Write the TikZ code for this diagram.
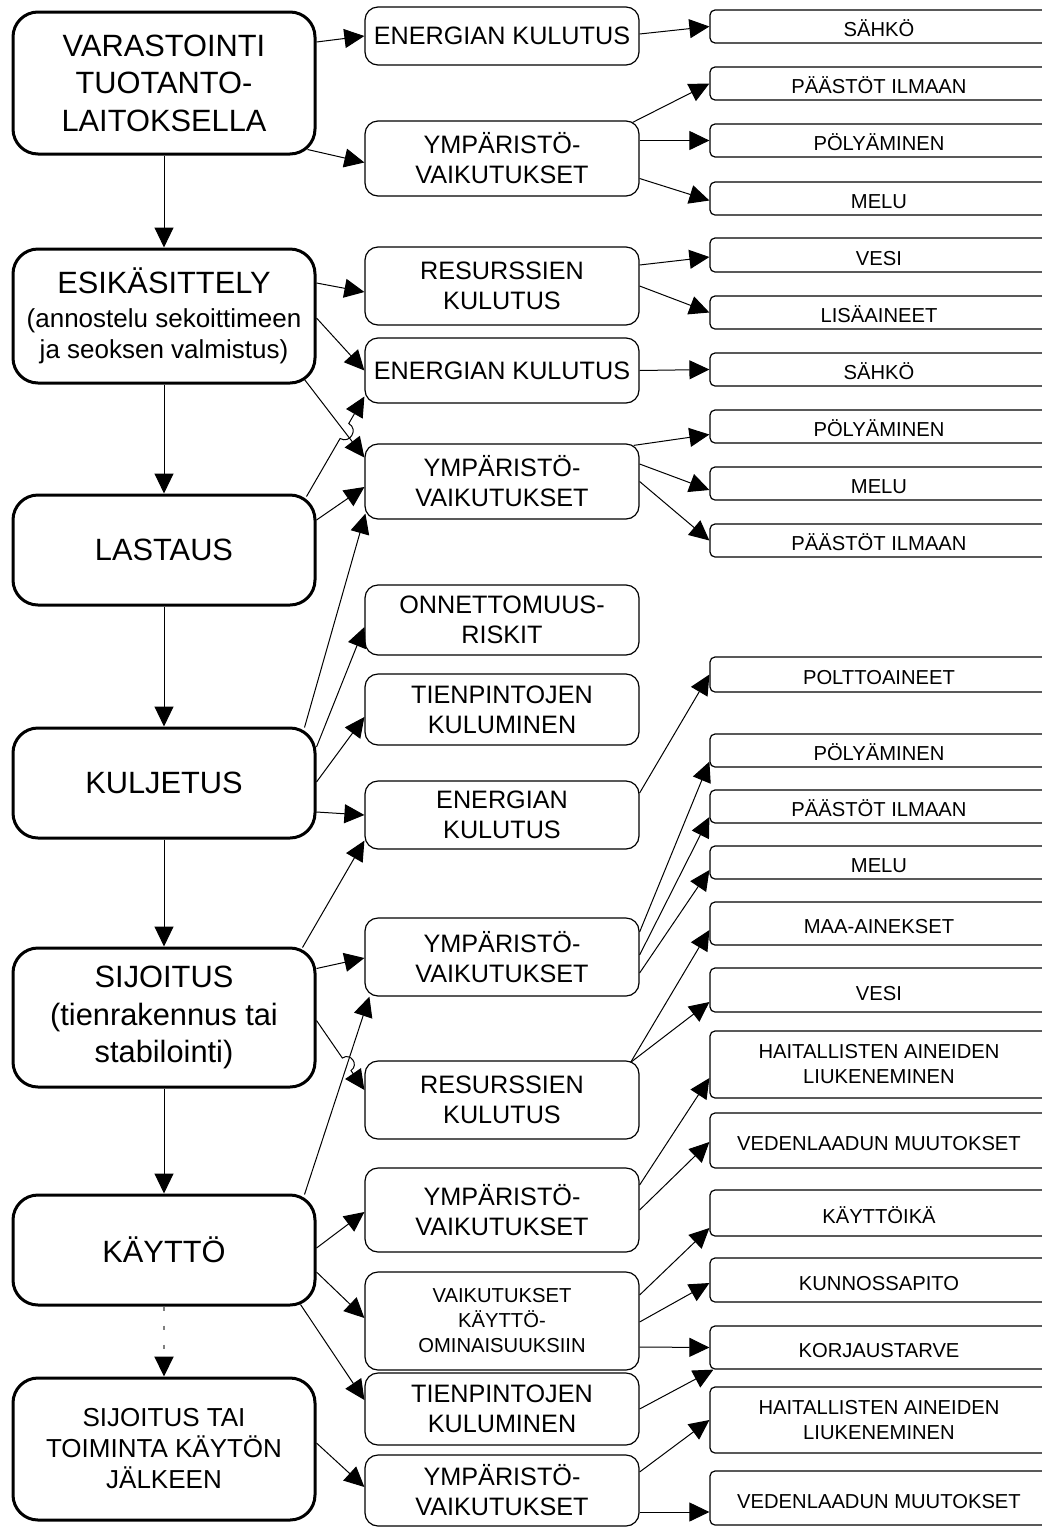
\documentclass[tikz,border=0pt]{standalone}
\usepackage{fontspec}
\setmainfont{Liberation Sans}
\usetikzlibrary{arrows.meta,calc}
\newcommand{\stagefont}{\fontsize{15.4pt}{18.7pt}\selectfont}
\newcommand{\subfont}{\fontsize{13pt}{15.5pt}\selectfont}
\newcommand{\effectfont}{\fontsize{12.6pt}{15pt}\selectfont}
\newcommand{\itemfont}{\fontsize{10.1pt}{12.5pt}\selectfont}

\begin{document}
\begin{tikzpicture}[
    x=0.5pt, y=-0.5pt,
    stage/.style={rectangle,rounded corners=12.5pt,draw,line width=1.5pt,
                  minimum width=151pt,inner sep=0pt,align=center,font=\stagefont},
    effect/.style={rectangle,rounded corners=6.5pt,draw,line width=0.6pt,
                   minimum width=137pt,inner sep=0pt,align=center,font=\effectfont},
    item/.style={rectangle,rounded corners=2.5pt,draw,line width=0.6pt,
                 minimum width=169pt,inner sep=0pt,align=center,font=\itemfont},
    oneline/.style={text height=10pt,text depth=0pt},
    arr/.style={-{Triangle[length=10pt,width=9.5pt]},line width=0.5pt},
    hop/.style={bend #1=90,looseness=1.7}
  ]
    \useasboundingbox (0,0) rectangle (1042,1527);

    % life-cycle stages
    \node[stage,minimum height=71pt] (varastointi) at (164,83) {VARASTOINTI\\TUOTANTO-\\LAITOKSELLA};
    \node[stage,font=\subfont,minimum height=67pt] (esikasittely) at (164,316)
      {{\stagefont ESIKÄSITTELY}\\[1.5pt](annostelu sekoittimeen\\ja seoksen valmistus)};
    \node[stage,minimum height=55pt] (lastaus) at (164,550) {LASTAUS};
    \node[stage,minimum height=55pt] (kuljetus) at (164,783) {KULJETUS};
    \node[stage,minimum height=69.5pt] (sijoitus) at (164,1017.5) {SIJOITUS\\(tienrakennus tai\\stabilointi)};
    \node[stage,minimum height=55pt] (kaytto) at (164,1250) {KÄYTTÖ};
    \node[stage,font=\subfont,minimum height=71pt] (jalkeen) at (164,1449) {SIJOITUS TAI\\TOIMINTA KÄYTÖN\\JÄLKEEN};

    % effects
    \node[effect,minimum height=29pt] (var-energia) at (502,36) {ENERGIAN KULUTUS};
    \node[effect,minimum height=37.5pt] (var-ymparisto) at (502,158.5) {YMPÄRISTÖ-\\VAIKUTUKSET};
    \node[effect,minimum height=39pt] (esi-resurssit) at (502,286) {RESURSSIEN\\KULUTUS};
    \node[effect,minimum height=32.5pt] (esi-energia) at (502,370.5) {ENERGIAN KULUTUS};
    \node[effect,minimum height=37.5pt] (esi-ymparisto) at (502,481.5) {YMPÄRISTÖ-\\VAIKUTUKSET};
    \node[effect,minimum height=35pt] (kul-riskit) at (502,620) {ONNETTOMUUS-\\RISKIT};
    \node[effect,minimum height=35.5pt] (kul-tienpinta) at (502,709.5) {TIENPINTOJEN\\KULUMINEN};
    \node[effect,minimum height=34pt] (kul-energia) at (502,815) {ENERGIAN\\KULUTUS};
    \node[effect,minimum height=39pt] (sij-ymparisto) at (502,957) {YMPÄRISTÖ-\\VAIKUTUKSET};
    \node[effect,minimum height=39pt] (sij-resurssit) at (502,1100) {RESURSSIEN\\KULUTUS};
    \node[effect,minimum height=42pt] (kay-ymparisto) at (502,1210) {YMPÄRISTÖ-\\VAIKUTUKSET};
    \node[effect,font=\itemfont,minimum height=49pt] (kay-ominaisuus) at (502,1321) {VAIKUTUKSET\\KÄYTTÖ-\\OMINAISUUKSIIN};
    \node[effect,minimum height=36pt] (kay-tienpinta) at (502,1409) {TIENPINTOJEN\\KULUMINEN};
    \node[effect,minimum height=35.5pt] (jal-ymparisto) at (502,1490.5) {YMPÄRISTÖ-\\VAIKUTUKSET};

    % detailed items
    \node[item,oneline,minimum height=16.5pt] (var-sahko) at (879,26.5) {SÄHKÖ};
    \node[item,oneline,minimum height=16.5pt] (var-paastot) at (879,83.5) {PÄÄSTÖT ILMAAN};
    \node[item,oneline,minimum height=16.5pt] (var-poly) at (879,140.5) {PÖLYÄMINEN};
    \node[item,oneline,minimum height=16.5pt] (var-melu) at (879,198.5) {MELU};
    \node[item,oneline,minimum height=17pt] (esi-vesi) at (879,255) {VESI};
    \node[item,oneline,minimum height=16.5pt] (esi-lisa) at (879,312.5) {LISÄAINEET};
    \node[item,oneline,minimum height=16.5pt] (esi-sahko) at (879,369.5) {SÄHKÖ};
    \node[item,oneline,minimum height=16.5pt] (esi-poly) at (879,426.5) {PÖLYÄMINEN};
    \node[item,oneline,minimum height=16.5pt] (esi-melu) at (879,483.5) {MELU};
    \node[item,oneline,minimum height=16.5pt] (esi-paastot) at (879,540.5) {PÄÄSTÖT ILMAAN};
    \node[item,oneline,minimum height=17.5pt] (kul-poltto) at (879,674.5) {POLTTOAINEET};
    \node[item,oneline,minimum height=16.5pt] (sij-poly) at (879,750.5) {PÖLYÄMINEN};
    \node[item,oneline,minimum height=16.5pt] (sij-paastot) at (879,806.5) {PÄÄSTÖT ILMAAN};
    \node[item,oneline,minimum height=16.5pt] (sij-melu) at (879,862.5) {MELU};
    \node[item,oneline,minimum height=21.5pt] (sij-maa) at (879,923.5) {MAA-AINEKSET};
    \node[item,oneline,minimum height=22pt] (sij-vesi) at (879,990) {VESI};
    \node[item,minimum height=33.5pt] (kay-haitta) at (879,1064.5) {HAITALLISTEN AINEIDEN\\LIUKENEMINEN};
    \node[item,oneline,minimum height=27.5pt] (kay-vesilaatu) at (879,1140.5) {VEDENLAADUN MUUTOKSET};
    \node[item,oneline,minimum height=23pt] (kay-ika) at (879,1213) {KÄYTTÖIKÄ};
    \node[item,oneline,minimum height=22pt] (kay-kunnossa) at (879,1280) {KUNNOSSAPITO};
    \node[item,oneline,minimum height=21.5pt] (kay-korjaus) at (879,1347.5) {KORJAUSTARVE};
    \node[item,minimum height=33pt] (jal-haitta) at (879,1420) {HAITALLISTEN AINEIDEN\\LIUKENEMINEN};
    \node[item,oneline,minimum height=27pt] (jal-vesilaatu) at (879,1498) {VEDENLAADUN MUUTOKSET};

    % flow down the stages
    \draw[arr] (varastointi) -- (esikasittely);
    \draw[arr] (esikasittely) -- (lastaus);
    \draw[arr] (lastaus) -- (kuljetus);
    \draw[arr] (kuljetus) -- (sijoitus);
    \draw[arr] (sijoitus) -- (kaytto);
    \draw[arr,gray,line width=1pt,dash pattern=on 2pt off 7.5pt,
          -{Triangle[length=10pt,width=9.5pt,color=black]}] (kaytto) -- (jalkeen);

    % VARASTOINTI
    \draw[arr] ([yshift=20.5pt]varastointi.east) -- (var-energia.west);
    \draw[arr] ([xshift=-4.5pt,yshift=3pt]varastointi.south east) -- ([yshift=-2pt]var-ymparisto.west);
    \draw[arr] ([yshift=1pt]var-energia.east) -- (var-sahko.west);
    \draw[arr] ([xshift=-3.5pt,yshift=-1pt]var-ymparisto.north east) -- (var-paastot.west);
    \draw[arr] ([yshift=9pt]var-ymparisto.east) -- (var-poly.west);
    \draw[arr] ([yshift=-10pt]var-ymparisto.east) -- ([yshift=-1pt]var-melu.west);

    % ESIKÄSITTELY
    \draw[arr] ([yshift=16.5pt]esikasittely.east) -- ([yshift=-3pt]esi-resurssit.west);
    \draw[arr] ([yshift=-1pt]esikasittely.east) -- (esi-energia.west);
    \draw[arr] ([xshift=-6pt,yshift=2.5pt]esikasittely.south east) -- ([yshift=12pt]esi-ymparisto.west);
    \draw[arr] ([yshift=10.5pt]esi-resurssit.east) -- ([yshift=-1pt]esi-vesi.west);
    \draw[arr] (esi-resurssit.east) -- (esi-lisa.west);
    \draw[arr] (esi-energia.east) -- (esi-sahko.west);
    \draw[arr] ([xshift=-3pt,yshift=-1pt]esi-ymparisto.north east) -- ([yshift=-4pt]esi-poly.west);
    \draw[arr] ([yshift=8.75pt]esi-ymparisto.east) -- ([yshift=-3.25pt]esi-melu.west);
    \draw[arr] (esi-ymparisto.east) -- (esi-paastot.west);

    % LASTAUS
    \coordinate (lastaus-ne) at ([xshift=-5pt,yshift=-1.5pt]lastaus.north east);
    \coordinate (esi-energia-sw) at ([yshift=-13pt]esi-energia.west);
    \draw[arr] (lastaus-ne) -- ($(lastaus-ne)!0.58!(esi-energia-sw)$)
      to[hop=right] ($(lastaus-ne)!0.73!(esi-energia-sw)$) -- (esi-energia-sw);
    \draw[arr] ([yshift=15pt]lastaus.east) -- ([yshift=-2.75pt]esi-ymparisto.west);

    % KULJETUS
    \draw[arr] ([xshift=-6pt,yshift=-0.5pt]kuljetus.north east) -- ([xshift=0.5pt,yshift=3pt]esi-ymparisto.south west);
    \draw[arr] ([yshift=18pt]kuljetus.east) -- ([yshift=-3.5pt]kul-riskit.west);
    \draw[arr] ([yshift=0.5pt]kuljetus.east) -- ([yshift=-3.75pt]kul-tienpinta.west);
    \draw[arr] ([yshift=-14.5pt]kuljetus.east) -- (kul-energia.west);
    \draw[arr] ([yshift=11pt]kul-energia.east) -- (kul-poltto.west);

    % SIJOITUS
    \draw[arr] ([xshift=-7pt,yshift=-0.5pt]sijoitus.north east) -- ([yshift=4.5pt]kul-energia.south west);
    \draw[arr] ([yshift=24.5pt]sijoitus.east) -- ([yshift=-0.5pt]sij-ymparisto.west);
    \coordinate (sijoitus-e) at ([yshift=-1.5pt]sijoitus.east);
    \coordinate (sij-resurssit-w) at ([yshift=5pt]sij-resurssit.west);
    \draw[arr] (sijoitus-e) -- ($(sijoitus-e)!0.54!(sij-resurssit-w)$)
      to[hop=left] ($(sijoitus-e)!0.72!(sij-resurssit-w)$) -- (sij-resurssit-w);
    \draw[arr] ([yshift=12.5pt]sij-ymparisto.east) -- ([yshift=3pt]sij-poly.south west);
    \draw[arr] ([yshift=1pt]sij-ymparisto.east) -- ([yshift=-5.25pt]sij-paastot.west);
    \draw[arr] ([yshift=-8pt]sij-ymparisto.east) -- ([yshift=-3.75pt]sij-melu.west);
    \draw[arr] ([xshift=-4.5pt,yshift=-1pt]sij-resurssit.north east) -- ([yshift=-3.25pt]sij-maa.west);
    \draw[arr] ([xshift=-4.5pt,yshift=-1pt]sij-resurssit.north east) -- ([yshift=-6pt]sij-vesi.west);

    % KÄYTTÖ
    \draw[arr] ([xshift=-6pt,yshift=-0.5pt]kaytto.north east) -- ([xshift=2.5pt]sij-ymparisto.south west);
    \draw[arr] ([yshift=1pt]kaytto.east) -- ([yshift=-1pt]kay-ymparisto.west);
    \draw[arr] ([yshift=-11pt]kaytto.east) -- ([yshift=1.5pt]kay-ominaisuus.west);
    \draw[arr] ([xshift=-8pt,yshift=1pt]kaytto.south east) -- ([yshift=4.5pt]kay-tienpinta.west);
    \draw[arr] ([yshift=12.5pt]kay-ymparisto.east) -- ([yshift=-6.75pt]kay-haitta.west);
    \draw[arr] (kay-ymparisto.east) -- ([yshift=-0.75pt]kay-vesilaatu.west);
    \draw[arr] ([yshift=13pt]kay-ominaisuus.east) -- ([yshift=-7.5pt]kay-ika.west);
    \draw[arr] ([yshift=-0.5pt]kay-ominaisuus.east) -- ([yshift=-1.5pt]kay-kunnossa.west);
    \draw[arr] ([yshift=-13pt]kay-ominaisuus.east) -- (kay-korjaus.west);
    \draw[arr] (kay-tienpinta.east) -- ([xshift=2pt]kay-korjaus.south west);

    % käytön jälkeen
    \draw[arr] ([yshift=3pt]jalkeen.east) -- ([yshift=1.75pt]jal-ymparisto.west);
    \draw[arr] ([yshift=9.25pt]jal-ymparisto.east) -- (jal-haitta.west);
    \draw[arr] ([yshift=-10.75pt]jal-ymparisto.east) -- ([yshift=-7pt]jal-vesilaatu.west);
\end{tikzpicture}
\end{document}
